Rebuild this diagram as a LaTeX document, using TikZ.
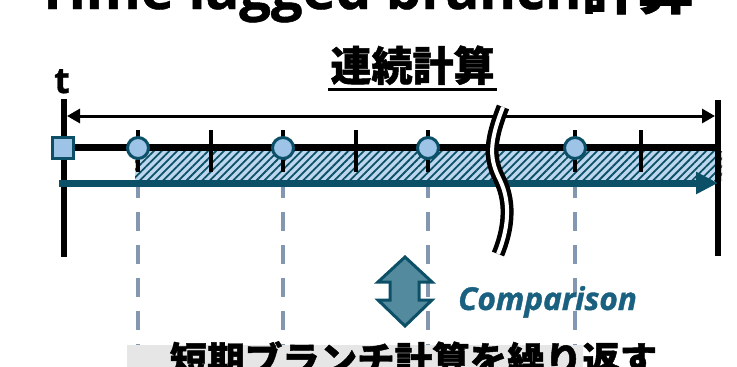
\documentclass[tikz,border=0pt]{standalone}
\usepackage{fontspec}
\newfontfamily\cjk{Noto Sans CJK JP}[BoldFeatures={FakeBold=1.2}]
\newfontfamily\lat{Open Sans}[BoldFeatures={FakeBold=0.8},BoldItalicFeatures={FakeBold=1.2}]
\usetikzlibrary{arrows.meta,patterns.meta}
\definecolor{tealdark}{RGB}{12,80,104}
\definecolor{lblue}{RGB}{157,195,230}
\definecolor{bandblue}{RGB}{189,215,238}
\definecolor{dashc}{RGB}{132,151,176}
\definecolor{arrfill}{RGB}{84,138,158}
\definecolor{compc}{RGB}{26,96,128}
\definecolor{greybox}{RGB}{231,230,230}
\tikzset{
  tickline/.style={line width=4pt,black},
  axisline/.style={line width=6.5pt,black},
  dashline/.style={line width=4pt,dashc,dash pattern=on 19pt off 14pt},
  circ/.style={circle,draw=tealdark,fill=lblue,line width=3pt,minimum size=21pt,inner sep=0pt},
  sqr/.style={rectangle,draw=tealdark,fill=lblue,line width=3pt,minimum size=21pt,inner sep=0pt},
}
\begin{document}
\begin{tikzpicture}[x=1pt,y=-1pt]
\useasboundingbox (0,0) rectangle (737,367);
\clip (0,0) rectangle (737,367);
% title (cut off)
\node[anchor=base,inner sep=0pt] (title) at (365,9) {\fontsize{56}{60}\selectfont\lat\bfseries Time lagged branch\cjk\bfseries 計算};
% 連続計算
\node[anchor=base,inner sep=0pt] (cont) at (412.5,81) {\fontsize{41}{46}\selectfont\cjk\bfseries 連続計算};
\draw[line width=3pt] (328,89) -- (497,89);
% t label
\node[anchor=base,inner sep=0pt] (tlab) at (62,93) {\fontsize{36}{40}\selectfont\lat\bfseries t};
% dashed lines
\foreach \x in {138,283,428,575} \draw[dashline] (\x,179) -- (\x,350);
% hatched band
\fill[bandblue] (135,151) rectangle (722,180);
\fill[pattern={Lines[angle=45,distance=5.5pt,line width=1.8pt]},pattern color=tealdark] (135,151) rectangle (722,180);
% axis lines
\coordinate (Ltop) at (64,99);
\coordinate (Lbot) at (64,257);
\coordinate (Rtop) at (718,100);
\coordinate (Rbot) at (718,256);
\draw[axisline] (Ltop) -- (Lbot);
\draw[axisline] (Rtop) -- (Rbot);
% ticks
\foreach \x in {138,211,283,356,428,575,641} \draw[tickline] (\x,130) -- (\x,172);
% timeline
\draw[line width=7pt] (64,147) -- (718,147);
% top double arrow
\coordinate (A1) at (67,116);
\coordinate (A2) at (715,116);
\draw[line width=3pt,{Triangle[length=13pt,width=14pt]}-{Triangle[length=13pt,width=14pt]}] (A1) -- (A2);
% teal arrow
\coordinate (T1) at (59,183);
\coordinate (T2) at (718,183);
\draw[tealdark,line width=7pt,-{Triangle[length=22pt,width=21pt]}] (T1) -- (T2);
% square and circles
\node[sqr] (sq) at (63,148) {};
\node[circ] (c1) at (138,148) {};
\node[circ] (c2) at (283,148) {};
\node[circ] (c3) at (428,148) {};
\node[circ] (c4) at (575,148) {};
% break mark
\draw[line width=13pt,black] (503,107) .. controls (488,145) and (490,160) .. (500,180) .. controls (512,205) and (507,232) .. (498,254);
\draw[line width=4pt,white] (503,107) .. controls (488,145) and (490,160) .. (500,180) .. controls (512,205) and (507,232) .. (498,254);
% up-down arrow
\draw[line width=3pt,draw=tealdark,fill=arrfill,line join=miter] (405,257) -- (432,282) -- (419,282) -- (419,300) -- (432,300) -- (405,326) -- (378,300) -- (390,300) -- (390,282) -- (378,282) -- cycle;
\node[anchor=base west,inner sep=0pt,text=compc] (comp) at (458,310) {\fontsize{31.5}{36}\selectfont\lat\bfseries\itshape Comparison};
% bottom box and text
\fill[greybox] (127,345) rectangle (583,380);
\node[anchor=base,inner sep=0pt] (bot) at (413.5,374) {\fontsize{37.5}{42}\selectfont\cjk\bfseries 短期ブランチ計算を繰り返す};
\end{tikzpicture}
\end{document}
